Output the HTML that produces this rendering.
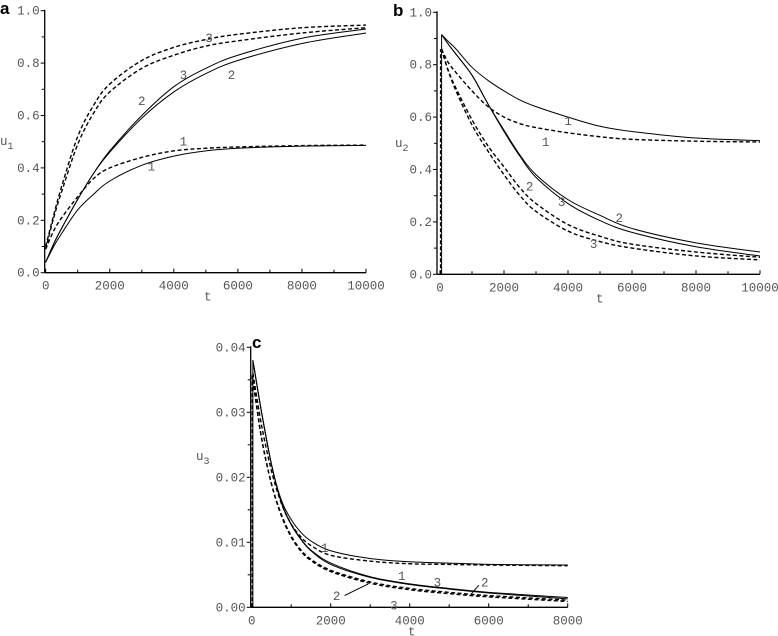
<!DOCTYPE html>
<html><head><meta charset="utf-8"><style>
html,body{margin:0;padding:0;background:#fff;}
svg{display:block;}
.tk{font-family:"Liberation Mono",monospace;font-size:12.5px;fill:#555;}
.lb{font-family:"Liberation Mono",monospace;font-size:12.5px;fill:#555;}
.pl{font-family:"Liberation Sans",sans-serif;font-size:17px;font-weight:bold;fill:#000;}
</style></head><body>
<svg id="fig" width="778" height="636" viewBox="0 0 778 636"></svg>
<script>
// ---- Panel a data ----
const aT = [0,250,500,1000,1500,2000,3000,4000,5000,6000,8000,10000];
const aSolid1 = [0.04,0.10,0.15,0.24,0.30,0.35,0.41,0.445,0.465,0.475,0.483,0.486];
const aSolid2 = [0.04,0.11,0.17,0.28,0.38,0.46,0.59,0.69,0.76,0.81,0.875,0.915];
const aSolid3 = [0.04,0.11,0.17,0.28,0.38,0.465,0.60,0.71,0.78,0.83,0.895,0.93];
const aDash1 = [0.09,0.16,0.21,0.29,0.36,0.40,0.44,0.465,0.475,0.48,0.485,0.487];
const aDash2 = [0.09,0.21,0.31,0.49,0.61,0.69,0.78,0.83,0.865,0.885,0.915,0.935];
const aDash3 = [0.10,0.22,0.33,0.52,0.64,0.72,0.81,0.86,0.89,0.91,0.935,0.945];
// ---- Panel b data ----
const bT = [50,250,500,1000,1500,2000,2500,3000,4000,5000,6000,8000,10000];
const bSolid1 = [0.915,0.89,0.86,0.79,0.74,0.70,0.665,0.64,0.60,0.565,0.545,0.52,0.51];
const bSolid2 = [0.915,0.88,0.84,0.76,0.65,0.55,0.455,0.38,0.285,0.225,0.175,0.12,0.085];
const bSolid3 = [0.915,0.88,0.84,0.76,0.65,0.545,0.45,0.37,0.27,0.205,0.16,0.105,0.07];
const bDash1 = [0.86,0.81,0.77,0.70,0.64,0.60,0.575,0.56,0.54,0.525,0.515,0.508,0.505];
const bDash2 = [0.86,0.78,0.71,0.59,0.49,0.41,0.33,0.27,0.19,0.145,0.115,0.085,0.065];
const bDash3 = [0.86,0.78,0.70,0.57,0.47,0.38,0.30,0.24,0.165,0.125,0.10,0.07,0.055];
// ---- Panel c data ----
const cT = [30,250,500,750,1000,1250,1500,2000,3000,4000,5000,6000,8000];
const cSolid1 = [0.038,0.030,0.022,0.0165,0.0135,0.0115,0.0102,0.0087,0.0075,0.0070,0.0068,0.0066,0.0065];
const cSolid2 = [0.038,0.030,0.022,0.0162,0.0128,0.0105,0.0088,0.0068,0.0047,0.0036,0.0029,0.0023,0.0015];
const cSolid3 = [0.038,0.030,0.022,0.0161,0.0127,0.0104,0.0087,0.0066,0.0046,0.0035,0.0028,0.0022,0.0013];
const cDash1 = [0.036,0.028,0.021,0.0160,0.0128,0.0108,0.0095,0.0080,0.0071,0.0067,0.0066,0.0065,0.0064];
const cDash2 = [0.035,0.026,0.019,0.0143,0.0110,0.0088,0.0074,0.0057,0.0039,0.0029,0.0023,0.0018,0.0011];
const cDash3 = [0.035,0.026,0.019,0.0141,0.0108,0.0086,0.0072,0.0055,0.0037,0.0027,0.0021,0.0016,0.0009];
// tick labels
const aXTicks = [0,2000,4000,6000,8000,10000];
const aYTicks = [0.0,0.2,0.4,0.6,0.8,1.0];
const cXTicks = [0,2000,4000,6000,8000];
const cYTicks = [0.00,0.01,0.02,0.03,0.04];

const NS = "http://www.w3.org/2000/svg";
const svg = document.getElementById('fig');
function mk(tag, attrs, parent){
  const e = document.createElementNS(NS, tag);
  for (const k in attrs) e.setAttribute(k, attrs[k]);
  (parent||svg).appendChild(e);
  return e;
}
function pathD(ts, vs, sx, sy){
  const p = ts.map((t,i)=>[sx(t), sy(vs[i])]);
  let d = 'M'+p[0][0].toFixed(2)+','+p[0][1].toFixed(2);
  for (let i=0;i<p.length-1;i++){
    const p0=p[i-1]||p[i], p1=p[i], p2=p[i+1], p3=p[i+2]||p2;
    const c1=[p1[0]+(p2[0]-p0[0])/6, p1[1]+(p2[1]-p0[1])/6];
    const c2=[p2[0]-(p3[0]-p1[0])/6, p2[1]-(p3[1]-p1[1])/6];
    d+=' C'+c1[0].toFixed(2)+','+c1[1].toFixed(2)+' '+c2[0].toFixed(2)+','+c2[1].toFixed(2)+' '+p2[0].toFixed(2)+','+p2[1].toFixed(2);
  }
  return d;
}
function panel(cfg){
  const g = mk('g',{});
  
  
  const sx = t => cfg.x0 + (t - cfg.xmin)/(cfg.xmax-cfg.xmin)*(cfg.x1-cfg.x0);
  const sy = v => cfg.y0 - (v - cfg.ymin)/(cfg.ymax-cfg.ymin)*(cfg.y0-cfg.y1);
  const ax = cfg.x0 - cfg.axOff;
  const yAxis = mk('line',{x1:ax,y1:cfg.y0,x2:ax,y2:cfg.y1-1,stroke:'#000','stroke-width':1.3},g);
  
  
  const xAxis = mk('line',{x1:ax,y1:cfg.y0,x2:sx(cfg.xmax),y2:cfg.y0,stroke:'#000','stroke-width':1.3},g);
  
  
  cfg.xTicks.forEach((t,i)=>{
    mk('line',{x1:sx(t),y1:cfg.y0,x2:sx(t),y2:cfg.y0-4,stroke:'#000','stroke-width':1},g);
    if (i<cfg.xTicks.length-1){ const m=(t+cfg.xTicks[i+1])/2;
      mk('line',{x1:sx(m),y1:cfg.y0,x2:sx(m),y2:cfg.y0-3,stroke:'#000','stroke-width':1},g);}
    const tx = mk('text',{x:sx(t),y:cfg.y0+17,'text-anchor':'middle',class:'tk'},g);
    tx.textContent = String(t);
    
    
  });
  cfg.yTicks.forEach((v,i)=>{
    mk('line',{x1:ax,y1:sy(v),x2:ax-4,y2:sy(v),stroke:'#000','stroke-width':1},g);
    if (i<cfg.yTicks.length-1){ const m=(v+cfg.yTicks[i+1])/2;
      mk('line',{x1:ax,y1:sy(m),x2:ax-3,y2:sy(m),stroke:'#000','stroke-width':1},g);}
    const ty = mk('text',{x:ax-5,y:sy(v)+4,'text-anchor':'end',class:'tk'},g);
    ty.textContent = v.toFixed(cfg.dec);
    
    
  });
  if (cfg.rise){
    mk('line',{x1:sx(cfg.t[0]),y1:cfg.y0,x2:sx(cfg.t[0]),y2:sy(cfg.rise[0]),stroke:'#000','stroke-width':1},g);
    mk('line',{x1:sx(cfg.xmin)+0.5,y1:cfg.y0,x2:sx(cfg.xmin)+0.5,y2:sy(cfg.rise[1]),stroke:'#000','stroke-width':1.2,'stroke-dasharray':'4,2'},g);
  }
  cfg.series.forEach(s=>{
    const p = mk('path',{d:pathD(cfg.t,s.v,sx,sy),fill:'none',stroke:'#000','stroke-width':s.dash?1.4:1,'stroke-dasharray':s.dash?'4,2.5':'none'},g);
    
    
  });
  cfg.labels.forEach(l=>{
    const t = mk('text',{x:sx(l[1]),y:sy(l[2]),class:'lb','text-anchor':'middle'},g);
    t.textContent = l[0];
    
    
  });
  const xt = mk('text',{x:cfg.tx,y:cfg.y0+28,class:'lb','font-size':'14'},g);
  xt.textContent='t';
  
  
  const yt = mk('text',{x:cfg.ux,y:cfg.uy,class:'lb','font-size':'14'},g);
  yt.textContent='u';
  
  
  const ys = mk('tspan',{dy:4,'font-size':'10'},yt); ys.textContent=cfg.sub;
  const pl = mk('text',{x:cfg.px,y:cfg.py,class:'pl'},g);
  pl.textContent = cfg.letter;
  
  
  return g;
}
panel({name:'panel-a',letter:'a',px:0,py:14,x0:45.7,x1:366,xmin:0,xmax:10000,y0:272.7,y1:10.7,ymin:0,ymax:1,axOff:1,
  xTicks:aXTicks,yTicks:aYTicks,dec:1,t:aT,sub:'1',ux:0,uy:145,tx:204,
  series:[{name:'a-solid-1',v:aSolid1},{name:'a-solid-2',v:aSolid2},{name:'a-solid-3',v:aSolid3},
          {name:'a-dashed-1',v:aDash1,dash:1},{name:'a-dashed-2',v:aDash2,dash:1},{name:'a-dashed-3',v:aDash3,dash:1}],
  labels:[['3',5100,0.88],['3',4300,0.74],['2',3000,0.64],['2',5800,0.74],['1',4300,0.485],['1',3300,0.39]]});
panel({name:'panel-b',letter:'b',px:393,py:16,x0:440,x1:760,xmin:0,xmax:10000,y0:274.3,y1:12.3,ymin:0,ymax:1,axOff:3,
  xTicks:aXTicks,yTicks:aYTicks,dec:1,t:bT,sub:'2',ux:395,uy:147,tx:596,rise:[0.915,0.86],
  series:[{name:'b-solid-1',v:bSolid1},{name:'b-solid-2',v:bSolid2},{name:'b-solid-3',v:bSolid3},
          {name:'b-dashed-1',v:bDash1,dash:1},{name:'b-dashed-2',v:bDash2,dash:1},{name:'b-dashed-3',v:bDash3,dash:1}],
  labels:[['1',4000,0.57],['1',3300,0.49],['2',2800,0.32],['3',3800,0.26],['2',5600,0.2],['3',4800,0.1]]});
panel({name:'panel-c',letter:'c',px:252,py:348,x0:251.7,x1:567.7,xmin:0,xmax:8000,y0:607.3,y1:347.3,ymin:0,ymax:0.04,axOff:1,
  xTicks:cXTicks,yTicks:cYTicks,dec:2,t:cT,sub:'3',ux:196,uy:460,tx:408,rise:[0.038,0.036],
  series:[{name:'c-solid-1',v:cSolid1},{name:'c-solid-2',v:cSolid2},{name:'c-solid-3',v:cSolid3},
          {name:'c-dashed-1',v:cDash1,dash:1},{name:'c-dashed-2',v:cDash2,dash:1},{name:'c-dashed-3',v:cDash3,dash:1}],
  labels:[['1',1850,0.0085],['1',3800,0.0042],['3',4700,0.0032],['2',5900,0.0032],['2',2150,0.0011],['3',3600,-0.0003]]});
const sxc = t => 251.7 + t/8000*316, syc = v => 607.3 - v/0.04*260;
const ar1 = mk('line',{x1:sxc(2350),y1:syc(0.0018),x2:sxc(2950),y2:syc(0.0036),stroke:'#000','stroke-width':1});


const ar2 = mk('line',{x1:sxc(5750),y1:syc(0.0034),x2:sxc(5550),y2:syc(0.0020),stroke:'#000','stroke-width':1});


</script>
</body></html>
